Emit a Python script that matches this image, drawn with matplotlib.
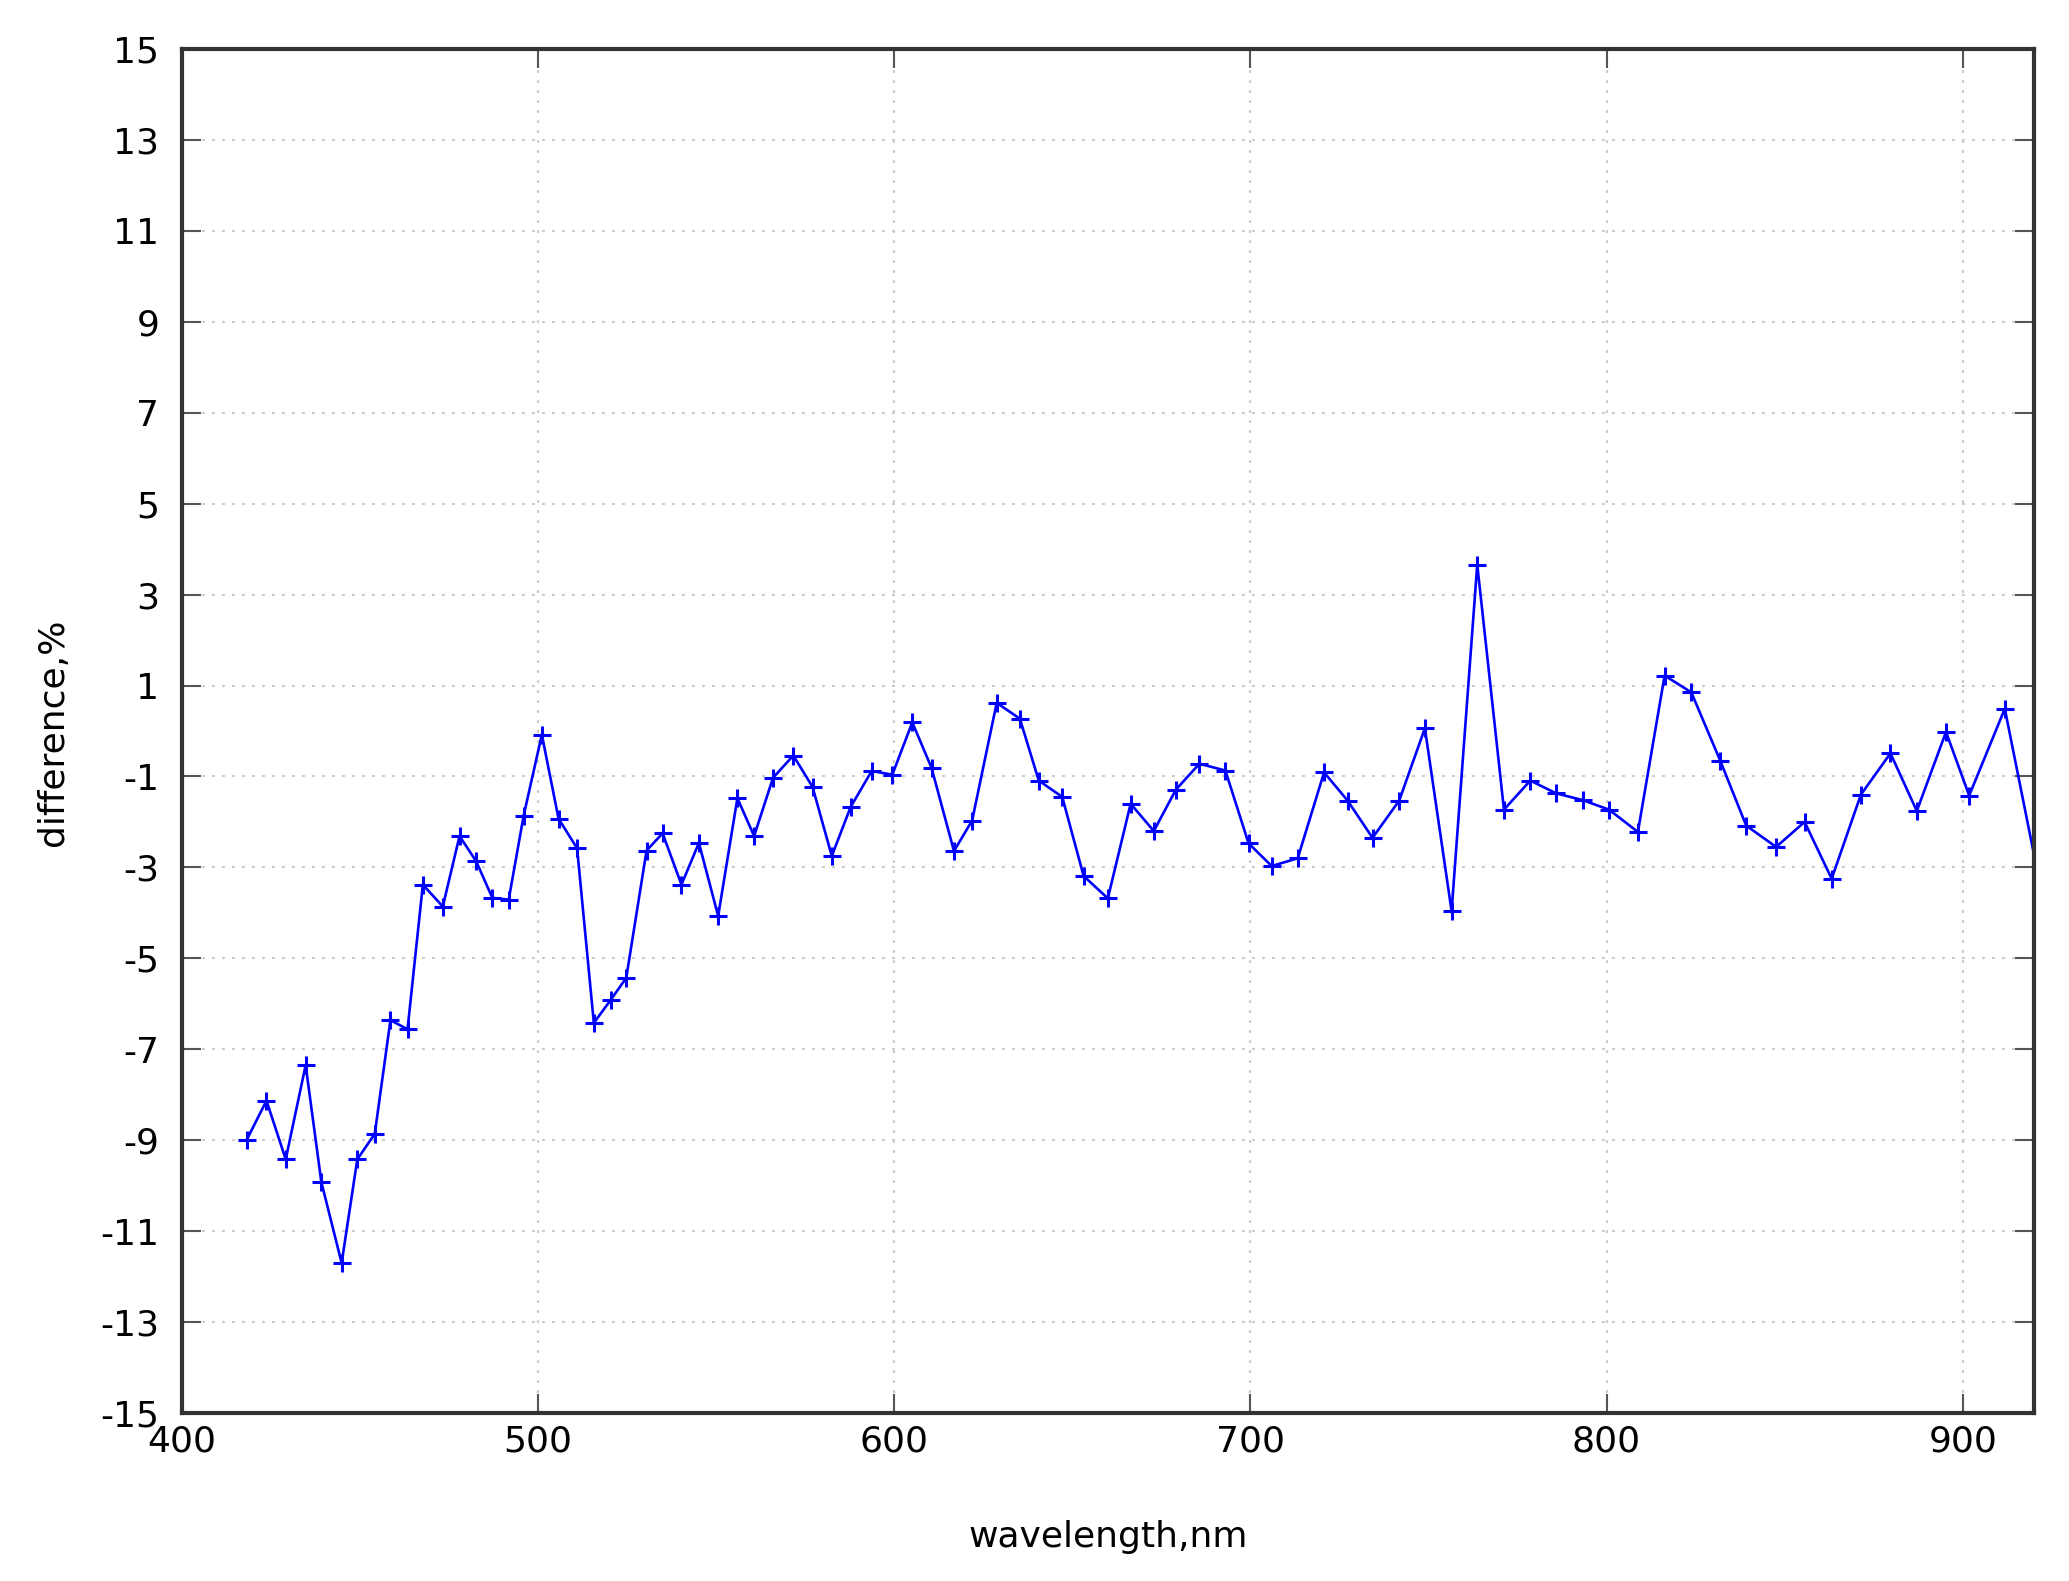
# difference vs wavelength plot (gnuplot-like look)
import numpy as np
import matplotlib
matplotlib.use('Agg')
import matplotlib.pyplot as plt

# data
wavelength = [418.2, 423.8, 429.2, 434.8, 439.2, 444.9, 449.3, 454.2, 458.6, 463.4,
              467.7, 473.3, 478.0, 482.7, 487.2, 491.8, 496.0, 501.1, 505.8, 511.0,
              515.7, 520.4, 524.8, 530.5, 535.0, 540.3, 545.2, 550.6, 556.0, 560.7,
              566.0, 571.7, 577.1, 582.5, 587.8, 593.7, 599.5, 605.1, 610.5, 616.8,
              621.9, 628.8, 635.3, 640.6, 647.2, 653.2, 660.0, 666.4, 672.9, 679.1,
              685.7, 693.0, 699.5, 706.0, 713.3, 720.7, 727.3, 734.3, 741.8, 749.0,
              756.5, 763.7, 771.2, 778.6, 785.8, 793.3, 800.7, 808.8, 816.3, 823.8,
              831.9, 839.2, 847.6, 855.6, 863.2, 871.4, 879.7, 887.1, 895.3, 901.8,
              911.8, 922.0]
difference = [-9.0, -8.13, -9.42, -7.35, -9.92, -11.7, -9.42, -8.86, -6.36, -6.56,
              -3.38, -3.86, -2.31, -2.87, -3.67, -3.71, -1.86, -0.08, -1.93, -2.58,
              -6.42, -5.92, -5.43, -2.63, -2.25, -3.38, -2.46, -4.07, -1.48, -2.31,
              -1.03, -0.54, -1.23, -2.75, -1.67, -0.88, -0.96, 0.19, -0.81, -2.64,
              -1.97, 0.62, 0.27, -1.09, -1.45, -3.19, -3.68, -1.60, -2.2, -1.29,
              -0.72, -0.87, -2.47, -2.97, -2.80, -0.91, -1.53, -2.35, -1.53, 0.06,
              -3.96, 3.66, -1.73, -1.09, -1.37, -1.52, -1.73, -2.22, 1.22, 0.85,
              -0.65, -2.08, -2.55, -2.0, -3.25, -1.4, -0.49, -1.76, -0.02, -1.42,
              0.49, -3.5]

xticks = [400, 500, 600, 700, 800, 900]
yticks = list(range(-15, 16, 2))

fig = plt.figure(figsize=(20.69, 15.81), dpi=100)
ax = fig.add_axes([181.7 / 2069, 1 - 1413 / 1581, (2034 - 181.7) / 2069, (1413 - 49) / 1581])

ax.plot(wavelength, difference, color='#0000ff', lw=1.9,
        marker='+', markersize=13, markeredgewidth=2.2)

ax.set_xlim(400, 920)
ax.set_ylim(-15, 15)
ax.set_xticks(xticks)
ax.set_yticks(yticks)
ax.set_yticklabels([str(t) for t in yticks])  # plain hyphen minus like gnuplot

ax.grid(True, color='#cccccc', lw=1.5, linestyle=(0, (1.4, 3.4)))
ax.tick_params(direction='in', length=13.5, width=1.5, color='#555555',
               top=True, right=True, labelsize=26, pad=8)
ax.tick_params(axis='y', pad=16)
for s in ax.spines.values():
    s.set_linewidth(3)
    s.set_color('#333333')
    s.set_zorder(5)

fig.text(0.5355, 1 - 1537 / 1581, 'wavelength,nm', fontsize=26, ha='center', va='center')
fig.text(53 / 2069, 1 - 732 / 1581, 'difference,%', fontsize=26, rotation=90,
         ha='center', va='center')

plt.savefig('out.png', dpi=100)
